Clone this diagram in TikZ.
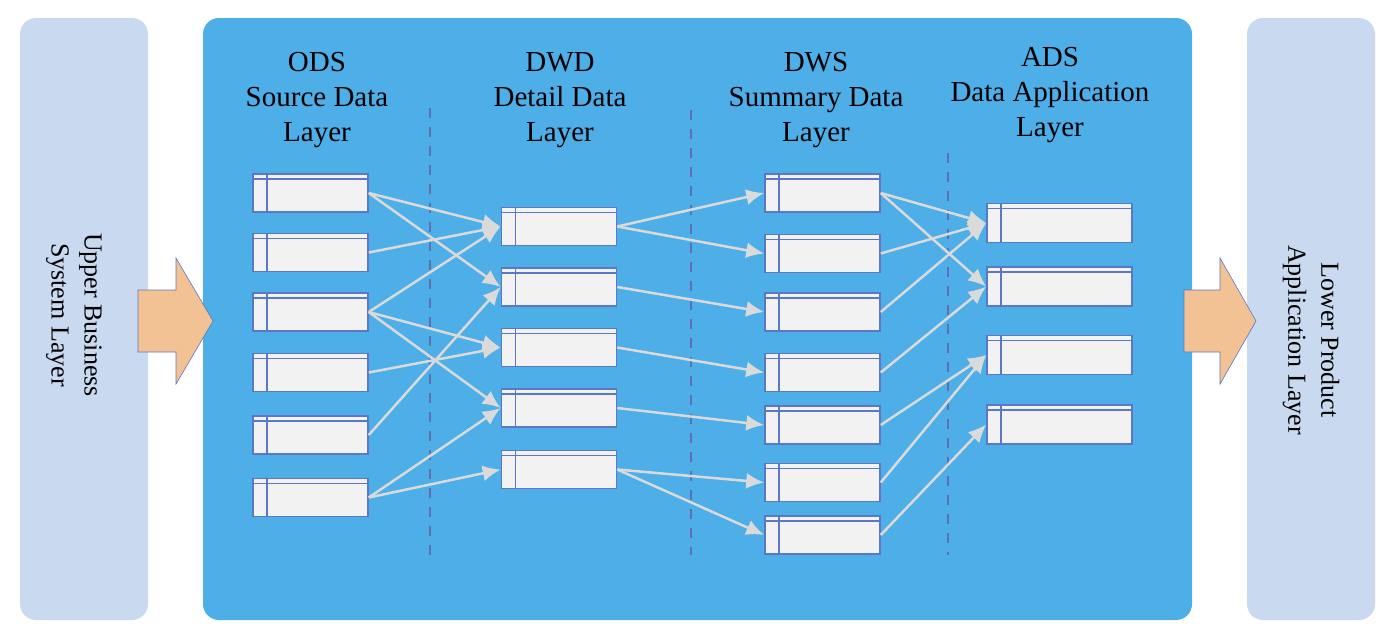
\documentclass[tikz,border=0pt]{standalone}
\usepackage{fontspec}
\setmainfont{Liberation Serif}
\usetikzlibrary{positioning,arrows.meta}
\definecolor{panelblue}{HTML}{C9DAF0}
\definecolor{dwblue}{HTML}{4DAEE8}
\definecolor{tblline}{HTML}{5A78C4}
\definecolor{tblfill}{HTML}{F2F2F2}
\definecolor{flowgray}{HTML}{DADADA}
\definecolor{dashblue}{HTML}{5E70B0}
\definecolor{arrowfill}{HTML}{F2C194}
\tikzset{%
side/.style={fill=panelblue,rounded corners=16pt,minimum width=128pt,minimum height=602pt,inner sep=0},
dwpanel/.style={fill=dwblue,rounded corners=16pt,minimum width=989pt,minimum height=602pt,inner sep=0},
sidetext/.style={rotate=-90,align=center,font=\fontsize{26}{33}\selectfont},
layerhead/.style={align=center,font=\fontsize{29}{35}\selectfont},
tbl/.style={draw=tblline,fill=tblfill,line width=1.5pt,minimum width=115pt,minimum height=38pt,inner sep=0,
  path picture={\draw[tblline,line width=1.2pt]
    ([yshift=-5pt]path picture bounding box.north west) -- ([yshift=-5pt]path picture bounding box.north east)
    ([xshift=14pt]path picture bounding box.north west) -- ([xshift=14pt]path picture bounding box.south west);}},
widetbl/.style={tbl,minimum width=145pt,minimum height=39pt},
flow/.style={every edge/.style={draw=flowgray,line width=2.5pt,-{Latex[length=18pt,width=16pt]}}},
divider/.style={draw=dashblue,line width=2.8pt,dash pattern=on 10pt off 9pt},
bigarrow/.style={fill=arrowfill,draw=tblline,line width=0.6pt}
}
\begin{document}
\begin{tikzpicture}[x=1pt,y=-1pt]
\useasboundingbox (0,0) rectangle (1400,641);

% outer layers
\node[side] (upper) at (84,319) {};
\node[side] (lower) at (1311,319) {};
\node[dwpanel] (dw) at (697.5,319) {};
\node[sidetext] (upperlbl) at (74,315) {Upper Business\\System Layer};
\node[sidetext] (lowerlbl) at (1311,340) {Lower Product\\Application Layer};

\draw[bigarrow] (138,290) -- (176,290) -- (176,258) -- (213,321) -- (176,384) -- (176,352) -- (138,352) -- cycle;
\draw[bigarrow] (1184,290) -- (1220,290) -- (1220,258) -- (1256,321) -- (1220,384) -- (1220,352) -- (1184,352) -- cycle;

% layer titles
\node[layerhead] (odshead) at (317,100) {ODS\\Source Data\\Layer};
\node[layerhead] (dwdhead) at (560,100) {DWD\\Detail Data\\Layer};
\node[layerhead] (dwshead) at (816,100) {DWS\\Summary Data\\Layer};
\node[layerhead] (adshead) at (1050,95) {ADS\\Data Application\\Layer};

\draw[divider] (430,108) -- (430,555);
\draw[divider] (691,110) -- (691,555);
\draw[divider] (948,153) -- (948,555);

% ODS tables
\node[tbl] (o1) at (310.5,193) {};
\node[tbl] (o2) [below=20pt of o1] {};
\node[tbl] (o3) [below=20pt of o2] {};
\node[tbl] (o4) [below=21pt of o3] {};
\node[tbl] (o5) [below=23pt of o4] {};
\node[tbl] (o6) [below=23pt of o5] {};

% DWD tables
\node[tbl] (d1) at (559,226.5) {};
\node[tbl] (d2) [below=21pt of d1] {};
\node[tbl] (d3) [below=21pt of d2] {};
\node[tbl] (d4) [below=21pt of d3] {};
\node[tbl] (d5) [below=22pt of d4] {};

% DWS tables
\node[tbl] (s1) at (822.5,193) {};
\node[tbl] (s2) [below=21pt of s1] {};
\node[tbl] (s3) [below=19pt of s2] {};
\node[tbl] (s4) [below=21pt of s3] {};
\node[tbl] (s5) [below=13pt of s4] {};
\node[tbl] (s6) [below=18pt of s5] {};
\node[tbl] (s7) [below=13pt of s6] {};

% ADS tables
\node[widetbl] (a1) at (1059.5,223) {};
\node[widetbl] (a2) [below=23pt of a1] {};
\node[widetbl] (a3) [below=28pt of a2] {};
\node[widetbl] (a4) [below=29pt of a3] {};

\path[flow] (o1.east) edge (d1.west)
                      edge (d2.west)
            (o2.east) edge (d1.west)
            (o3.east) edge (d1.west)
                      edge (d3.west)
                      edge (d4.west)
            (o4.east) edge (d3.west)
            (o5.east) edge (d2.west)
            (o6.east) edge (d4.west)
                      edge (d5.west);

\path[flow] (d1.east) edge (s1.west)
                      edge (s2.west)
            (d2.east) edge (s3.west)
            (d3.east) edge (s4.west)
            (d4.east) edge (s5.west)
            (d5.east) edge (s6.west)
                      edge (s7.west);

\path[flow] (s1.east) edge (a1.west)
                      edge (a2.west)
            (s2.east) edge (a1.west)
            (s3.east) edge (a1.west)
            (s4.east) edge (a2.west)
            (s5.east) edge (a3.west)
            (s6.east) edge (a3.west)
            (s7.east) edge (a4.west);

\end{tikzpicture}
\end{document}
